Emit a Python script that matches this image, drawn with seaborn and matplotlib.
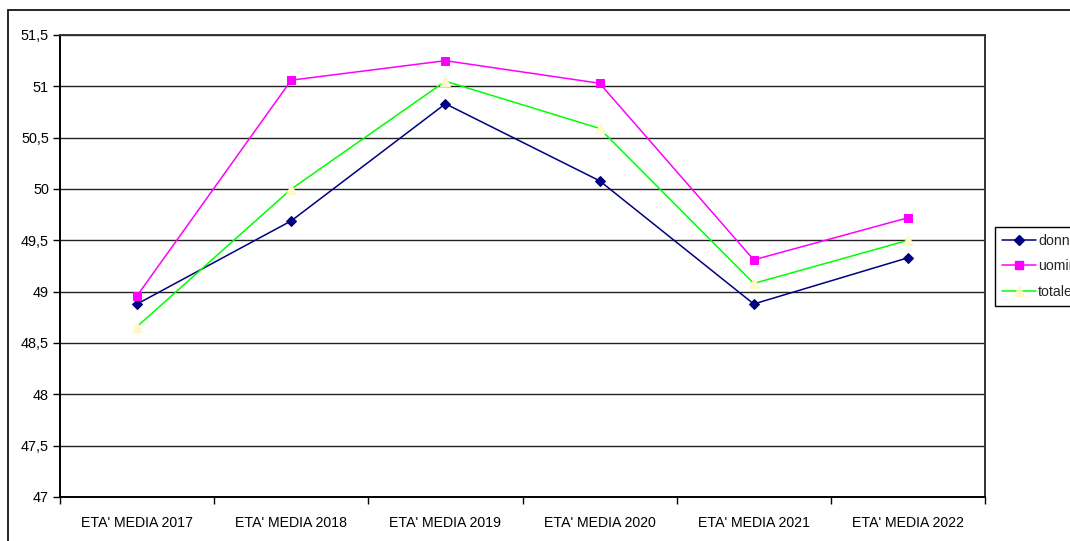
import matplotlib
matplotlib.use("Agg")
import matplotlib.pyplot as plt
from matplotlib.patches import Rectangle
from matplotlib.lines import Line2D
from matplotlib.ticker import FixedLocator, FuncFormatter
import seaborn as sns
import pandas as pd

categories = ["ETA' MEDIA 2017", "ETA' MEDIA 2018", "ETA' MEDIA 2019",
              "ETA' MEDIA 2020", "ETA' MEDIA 2021", "ETA' MEDIA 2022"]
donne = [48.88, 49.69, 50.83, 50.08, 48.88, 49.33]
uomini = [48.96, 51.06, 51.25, 51.03, 49.31, 49.72]
totale = [48.66, 50.00, 51.05, 50.59, 49.08, 49.50]
y_ticks = [47, 47.5, 48, 48.5, 49, 49.5, 50, 50.5, 51, 51.5]

sns.set_theme(style="white")
plt.rcParams['font.family'] = ['Liberation Sans', 'DejaVu Sans']

W, H = 1070, 541
fig = plt.figure(figsize=(W / 100, H / 100), dpi=100)
ax = fig.add_axes([60 / W, 1 - 497 / H, (985 - 60) / W, (497 - 35) / H])

styles = {
    "donne": dict(values=donne, color="#000080", marker="D", mfc="#000080", mec="#000080", ms=5),
    "uomini": dict(values=uomini, color="#FF00FF", marker="s", mfc="#FF00FF", mec="#FF00FF", ms=6),
    "totale": dict(values=totale, color="#00FF00", marker="^", mfc="#FFF8C8", mec="#FFF8C8", ms=7),
}

for name, st in styles.items():
    df = pd.DataFrame({"cat": categories, "val": st["values"]})
    sns.lineplot(data=df, x="cat", y="val", ax=ax, color=st["color"], lw=1.1,
                 marker=st["marker"], markerfacecolor=st["mfc"],
                 markeredgecolor=st["mec"], markersize=st["ms"], zorder=3)

ax.set_xlim(-0.5, len(categories) - 0.5)
ax.set_ylim(47, 51.5)
ax.set_xlabel("")
ax.set_ylabel("")

ax.yaxis.set_major_locator(FixedLocator(y_ticks))
ax.yaxis.set_major_formatter(FuncFormatter(lambda v, p: (f"{v:g}").replace(".", ",")))
ax.yaxis.grid(True, color="#222222", lw=1.0)
ax.set_axisbelow(True)

ax.set_xticks(range(len(categories)))
ax.set_xticklabels(categories)
ax.set_xticks([i - 0.5 for i in range(len(categories) + 1)], minor=True)
ax.tick_params(axis="x", which="major", length=0, pad=14, labelsize=10.2, colors="black")
ax.tick_params(axis="x", which="minor", length=5, width=1, color="black", direction="out", bottom=True)
ax.tick_params(axis="y", which="major", length=5, width=1, color="black", direction="out",
               left=True, labelsize=10.4, labelcolor="black", pad=3)

for side in ["left", "bottom"]:
    ax.spines[side].set_color("black")
    ax.spines[side].set_linewidth(1.4)
for side in ["top", "right"]:
    ax.spines[side].set_color("#333333")
    ax.spines[side].set_linewidth(1.4)

# outer chart-area frame
fig.patches.append(Rectangle((8 / W, -0.2), 2, 1 - 10 / H + 0.2, transform=fig.transFigure,
                             fill=False, edgecolor="black", lw=1.2, zorder=0))

handles = [Line2D([0], [0], color=st["color"], lw=1.1, marker=st["marker"],
                  markerfacecolor=st["mfc"], markeredgecolor=st["mec"], markersize=st["ms"])
           for st in styles.values()]
leg = fig.legend(handles, list(styles.keys()), loc="upper left",
                 bbox_to_anchor=(995 / W, 1 - 227 / H), bbox_transform=fig.transFigure,
                 frameon=True, fancybox=False, edgecolor="black", framealpha=1,
                 fontsize=10.2, handlelength=2.4, handletextpad=0.15, labelspacing=0.8,
                 borderpad=0.5, borderaxespad=0)
leg.get_frame().set_linewidth(1.0)

fig.savefig("out.png", dpi=100)
